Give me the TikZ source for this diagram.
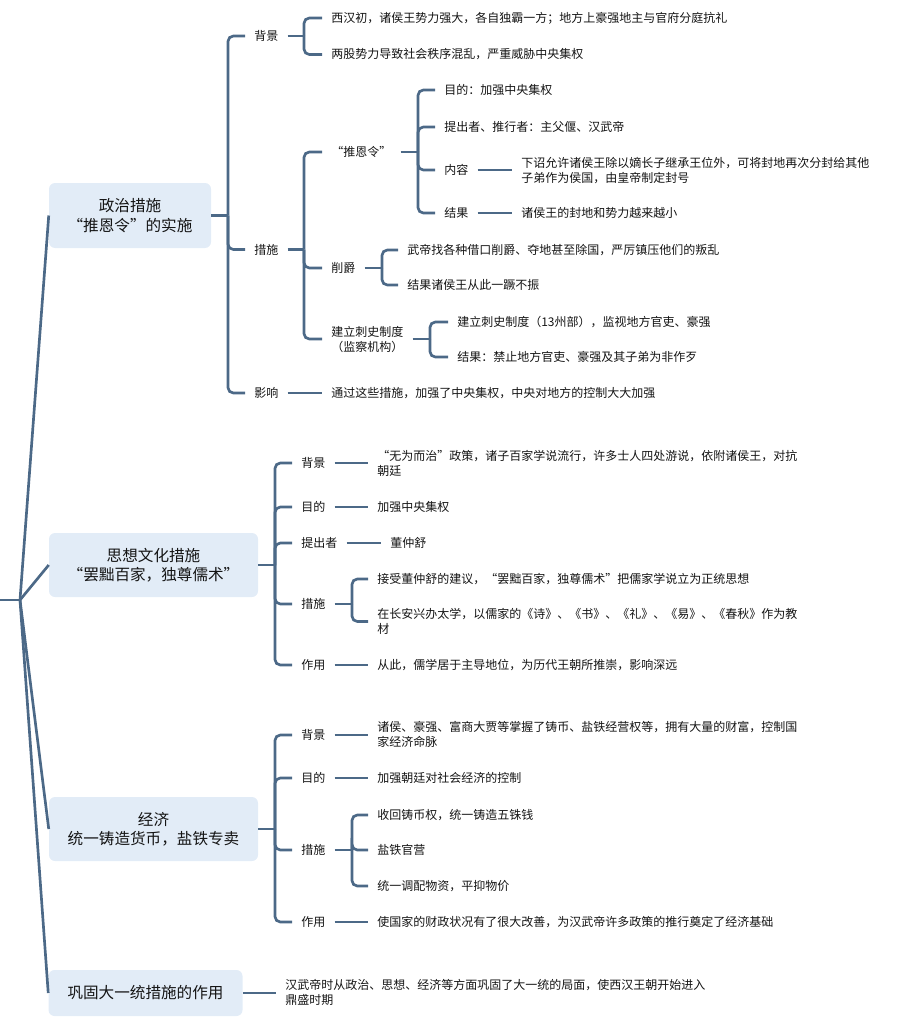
\documentclass[tikz,border=0pt]{standalone}
\usepackage{fontspec}
\setmainfont{Noto Sans CJK SC}
\definecolor{lc}{HTML}{4C6987}
\definecolor{boxblue}{HTML}{E2ECF7}
\definecolor{txt}{HTML}{141414}
\tikzset{
 topic/.style={fill=boxblue, rounded corners=4.5pt, inner sep=0pt, align=center, font=\fontsize{11.7}{14.6}\selectfont, text=txt},
 lab/.style={anchor=west, inner xsep=6.75pt, inner ysep=1pt, align=left, font=\fontsize{9}{11.25}\selectfont, text=txt},
 conn/.style={draw=lc, line width=2pt},
 brk/.style={conn, rounded corners=4pt},
}
\begin{document}
\begin{tikzpicture}[x=0.75pt, y=-0.75pt]
\useasboundingbox (0,0) rectangle (898,1027);
% topics
\node[topic, minimum width=121.5pt, minimum height=48.75pt] (box1) at (130,215.5) {政治措施\\“推恩令”的实施};
\node[topic, minimum width=156.75pt, minimum height=48pt] (box2) at (153.5,565) {思想文化措施\\“罢黜百家，独尊儒术”};
\node[topic, minimum width=156.75pt, minimum height=48pt] (box3) at (153.5,829) {经济\\统一铸造货币，盐铁专卖};
\node[topic, minimum width=145.5pt, minimum height=34.5pt] (box4) at (145.5,993) {巩固大一统措施的作用};
% root
\coordinate (rootL) at (0,600);
\coordinate (root) at (20,600);
\draw[conn] (rootL) -- (root);
\foreach \b in {box1,box2,box3,box4} \draw[conn] (root) -- (\b.west);

% ---------- box1 ----------
\node[lab] (n11) at (245,36) {背景};
\node[lab] (n12) at (245,249.5) {措施};
\node[lab] (n13) at (245,393) {影响};
\coordinate (b1) at (228,0);
\draw[conn] (box1.east) -- (box1.east -| b1);
\foreach \c in {n11,n12,n13} \draw[brk] (box1.east -| b1) |- (\c.west);

\node[lab] (l111) at (322,18) {西汉初，诸侯王势力强大，各自独霸一方；地方上豪强地主与官府分庭抗礼};
\node[lab] (l112) at (322,54.5) {两股势力导致社会秩序混乱，严重威胁中央集权};
\coordinate (b11) at (304,0);
\draw[conn] (n11.east) -- (n11.east -| b11);
\foreach \c in {l111,l112} \draw[brk] (n11.east -| b11) |- (\c.west);

\node[lab] (n121) at (322,152) {“推恩令”};
\node[lab] (n122) at (322,268) {削爵};
\node[lab, align=center] (n123) at (322,339) {建立刺史制度\\（监察机构）};
\coordinate (b12) at (304,0);
\draw[conn] (n12.east) -- (n12.east -| b12);
\foreach \c in {n121,n122,n123} \draw[brk] (n12.east -| b12) |- (\c.west);

\node[lab] (l1211) at (435,90) {目的：加强中央集权};
\node[lab] (l1212) at (435,127) {提出者、推行者：主父偃、汉武帝};
\node[lab] (n1213) at (435,170) {内容};
\node[lab] (n1214) at (435,213) {结果};
\coordinate (b121) at (418,0);
\draw[conn] (n121.east) -- (n121.east -| b121);
\foreach \c in {l1211,l1212,n1213,n1214} \draw[brk] (n121.east -| b121) |- (\c.west);

\node[lab] (l12131) at (512,170.5) {下诏允许诸侯王除以嫡长子继承王位外，可将封地再次分封给其他\\子弟作为侯国，由皇帝制定封号};
\node[lab] (l12141) at (512,213) {诸侯王的封地和势力越来越小};
\draw[conn] (n1213.east) -- (n1213.east -| l12131.west);
\draw[conn] (n1214.east) -- (n1214.east -| l12141.west);

\node[lab] (l1221) at (398,250) {武帝找各种借口削爵、夺地甚至除国，严厉镇压他们的叛乱};
\node[lab] (l1222) at (398,285) {结果诸侯王从此一蹶不振};
\coordinate (b122) at (382,0);
\draw[conn] (n122.east) -- (n122.east -| b122);
\foreach \c in {l1221,l1222} \draw[brk] (n122.east -| b122) |- (\c.west);

\node[lab] (l1231) at (448,322) {建立刺史制度（13州部），监视地方官吏、豪强};
\node[lab] (l1232) at (448,357) {结果：禁止地方官吏、豪强及其子弟为非作歹};
\coordinate (b123) at (430,0);
\draw[conn] (n123.east) -- (n123.east -| b123);
\foreach \c in {l1231,l1232} \draw[brk] (n123.east -| b123) |- (\c.west);

\node[lab] (l131) at (322,393) {通过这些措施，加强了中央集权，中央对地方的控制大大加强};
\draw[conn] (n13.east) -- (n13.east -| l131.west);

% ---------- box2 ----------
\node[lab] (n21) at (292,463) {背景};
\node[lab] (n22) at (292,507) {目的};
\node[lab] (n23) at (292,543) {提出者};
\node[lab] (n24) at (292,604) {措施};
\node[lab] (n25) at (292,665) {作用};
\coordinate (b2) at (275,0);
\draw[conn] (box2.east) -- (box2.east -| b2);
\foreach \c in {n21,n22,n23,n24,n25} \draw[brk] (box2.east -| b2) |- (\c.west);

\node[lab] (l211) at (368,463.5) {“无为而治”政策，诸子百家学说流行，许多士人四处游说，依附诸侯王，对抗\\朝廷};
\node[lab] (l221) at (368,507) {加强中央集权};
\node[lab] (l231) at (381,543) {董仲舒};
\node[lab] (l241) at (368,579) {接受董仲舒的建议，“罢黜百家，独尊儒术”把儒家学说立为正统思想};
\node[lab] (l242) at (368,621.5) {在长安兴办太学，以儒家的《诗》、《书》、《礼》、《易》、《春秋》作为教\\材};
\node[lab] (l251) at (368,665) {从此，儒学居于主导地位，为历代王朝所推崇，影响深远};
\draw[conn] (n21.east) -- (n21.east -| l211.west);
\draw[conn] (n22.east) -- (n22.east -| l221.west);
\draw[conn] (n23.east) -- (n23.east -| l231.west);
\draw[conn] (n25.east) -- (n25.east -| l251.west);
\coordinate (b24) at (352,0);
\draw[conn] (n24.east) -- (n24.east -| b24);
\draw[brk] (n24.east -| b24) |- (l241.west);
\draw[brk] (n24.east -| b24) |- (l242.west);

% ---------- box3 ----------
\node[lab] (n31) at (292,735) {背景};
\node[lab] (n32) at (292,778) {目的};
\node[lab] (n33) at (292,850) {措施};
\node[lab] (n34) at (292,922) {作用};
\coordinate (b3) at (275,0);
\draw[conn] (box3.east) -- (box3.east -| b3);
\foreach \c in {n31,n32,n33,n34} \draw[brk] (box3.east -| b3) |- (\c.west);

\node[lab] (l311) at (368,734.5) {诸侯、豪强、富商大贾等掌握了铸币、盐铁经营权等，拥有大量的财富，控制国\\家经济命脉};
\node[lab] (l321) at (368,778) {加强朝廷对社会经济的控制};
\node[lab] (l331) at (368,815) {收回铸币权，统一铸造五铢钱};
\node[lab] (l332) at (368,850) {盐铁官营};
\node[lab] (l333) at (368,886) {统一调配物资，平抑物价};
\node[lab] (l341) at (368,922) {使国家的财政状况有了很大改善，为汉武帝许多政策的推行奠定了经济基础};
\draw[conn] (n31.east) -- (n31.east -| l311.west);
\draw[conn] (n32.east) -- (n32.east -| l321.west);
\draw[conn] (n34.east) -- (n34.east -| l341.west);
\coordinate (b33) at (352,0);
\draw[conn] (n33.east) -- (n33.east -| b33);
\foreach \c in {l331,l332,l333} \draw[brk] (n33.east -| b33) |- (\c.west);

% ---------- box4 ----------
\node[lab] (l41) at (276,992.5) {汉武帝时从政治、思想、经济等方面巩固了大一统的局面，使西汉王朝开始进入\\鼎盛时期};
\draw[conn] (box4.east) -- (box4.east -| l41.west);
\end{tikzpicture}
\end{document}
